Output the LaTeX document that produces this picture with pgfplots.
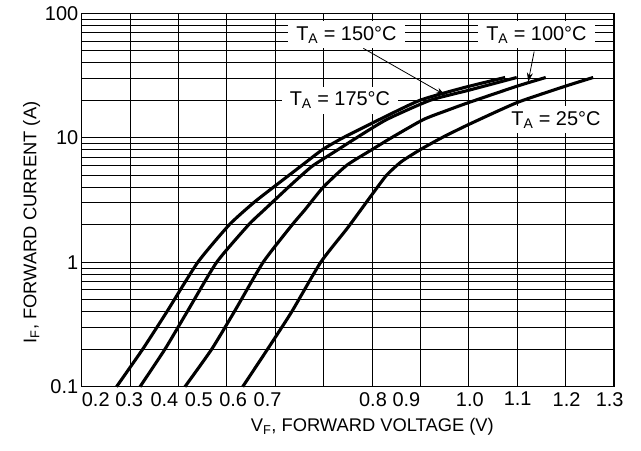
\documentclass[border=0pt]{standalone}
\usepackage{fontspec}
\setmainfont{Liberation Sans}
\usepackage{pgfplots}
\pgfplotsset{compat=1.18}
\usetikzlibrary{arrows.meta}
\tikzset{lab/.style={fill=white, inner xsep=8bp, inner ysep=5bp, font=\fontsize{20}{24}\selectfont}}
\pgfplotsset{curve/.style={black, solid, mark=none, line width=3.1bp, line join=round, smooth, tension=0.35}}
\begin{document}
\begin{tikzpicture}
\begin{axis}[
  name=ax,
  scale only axis, width=532.3bp, height=373.4bp,
  ymode=log, xmin=0.2, xmax=1.3, ymin=0.1, ymax=100,
  xtick={0.229,0.298,0.371,0.442,0.513,0.584,0.802,0.871,1.002,1.101,1.202,1.291},
  xticklabels={0.2,0.3,0.4,0.5,0.6,0.7,0.8,0.9,1.0,1.1,1.2,1.3},
  minor xtick={0.2,0.3,0.4,0.5,0.6,0.7,0.8,0.9,1.0,1.1,1.2,1.3},
  ytick={0.1,1,10,100}, yticklabels={0.1,1,10,100},
  xmajorgrids=false, xminorgrids=true, ymajorgrids=true, yminorgrids=true,
  major grid style={black, line width=0.8bp},
  minor grid style={black, line width=0.8bp},
  major tick length=0pt, minor tick length=0pt,
  axis line style={black, line width=1.3bp},
  tick label style={font=\fontsize{20}{24}\selectfont},
  xticklabel style={yshift=-2bp},
  label style={font=\fontsize{18.4}{22}\selectfont},
  xlabel={V\textsubscript{F}, FORWARD VOLTAGE (V)},
  ylabel={I\textsubscript{F}, FORWARD CURRENT (A)},
  xlabel style={at={(axis description cs:0.546,-0.107)}, anchor=center},
  ylabel style={at={(axis description cs:-0.094,0.44)}, anchor=center},
  clip=false,
]
\node[lab] at (axis cs:0.747,67) {T\textsubscript{A} = 150°C};
\node[lab] at (axis cs:1.1397,67) {T\textsubscript{A} = 100°C};
\node[lab] at (axis cs:0.7337,20.1) {T\textsubscript{A} = 175°C};
\node[lab, inner xsep=6bp] at (axis cs:1.18,13.9) {T\textsubscript{A} = 25°C};
% T_A = 175 C
\addplot[curve] coordinates {(0.272,0.1)(0.326,0.2)(0.376,0.4)(0.44,1)(0.505,2)(0.555,3)(0.596,4)(0.655,6)(0.697,8)(0.74,10)(0.815,14)(0.899,20)(0.99,25.3)(1.075,30.5)};
% T_A = 150 C
\addplot[curve] coordinates {(0.3205,0.1)(0.372,0.2)(0.418,0.4)(0.479,1)(0.545,2)(0.577,2.63)(0.627,4)(0.6545,5)(0.6785,6)(0.729,8)(0.768,10)(0.83,14)(0.92,20)(1.0,24.1)(1.099,30.5)};
% T_A = 100 C
\addplot[curve] coordinates {(0.4134,0.1)(0.4686,0.2)(0.5153,0.4)(0.575,1)(0.635,2)(0.661,2.63)(0.699,4)(0.7475,6)(0.799,8)(0.84,10)(0.906,14)(0.957,16.7)(1.0,19.2)(1.1,26)(1.159,30.5)};
% T_A = 25 C
\addplot[curve] coordinates {(0.5327,0.1)(0.584,0.2)(0.634,0.4)(0.694,1)(0.75,1.9)(0.80,3.5)(0.83,5)(0.86,6.4)(0.899,8)(0.944,10)(1.0,12.8)(1.1,19.2)(1.2,26)(1.257,30.5)};
\draw[-{Stealth[length=9bp,width=6bp]}, line width=0.8bp] (axis cs:0.782,52.3) -- (axis cs:0.9506,22.1);
\draw[-{Stealth[length=9bp,width=6bp]}, line width=0.8bp] (axis cs:1.135,49.2) -- (axis cs:1.1227,28.2);
\end{axis}
\pgfresetboundingbox
\path (ax.south west) ++(-81.7bp,-64.3bp) coordinate (bl);
\path (ax.north east) ++(27bp,13.3bp) coordinate (tr);
\useasboundingbox (bl) rectangle (tr);
\end{tikzpicture}
\end{document}
